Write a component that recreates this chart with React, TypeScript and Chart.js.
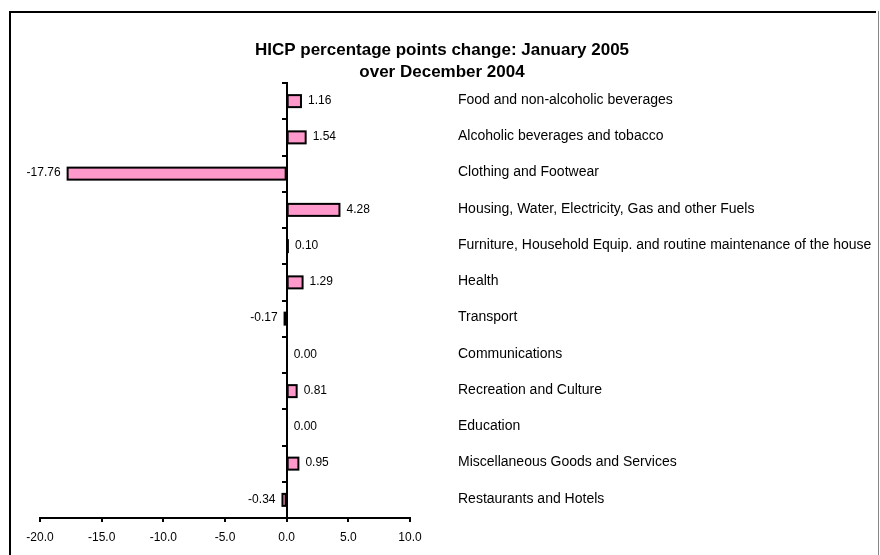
import { useEffect, useRef } from "react";
import { Chart, registerables } from "chart.js";

Chart.register(...registerables);

const categories = [
  "Food and non-alcoholic beverages",
  "Alcoholic beverages and tobacco",
  "Clothing and Footwear",
  "Housing, Water, Electricity, Gas and other Fuels",
  "Furniture, Household Equip. and routine maintenance of the house",
  "Health",
  "Transport",
  "Communications",
  "Recreation and Culture",
  "Education",
  "Miscellaneous Goods and Services",
  "Restaurants and Hotels",
];

const values = [1.16, 1.54, -17.76, 4.28, 0.1, 1.29, -0.17, 0.0, 0.81, 0.0, 0.95, -0.34];

const xTicks = [-20, -15, -10, -5, 0, 5, 10];

const titleLines = ["HICP percentage points change: January 2005", "over December 2004"];

const FONT = "'Liberation Sans', Arial, Helvetica, sans-serif";

export default function App() {
  const ref = useRef<HTMLCanvasElement>(null);

  useEffect(() => {
    const canvas = ref.current;
    if (!canvas) return;

    const overlay = {
      id: "overlay",
      beforeDraw(chart: any) {
        const ctx = chart.ctx;
        ctx.save();
        ctx.fillStyle = "#fff";
        ctx.fillRect(0, 0, chart.width, chart.height);
        ctx.fillStyle = "#000";
        ctx.fillRect(9, 11, 2, chart.height - 11);
        ctx.fillRect(9, 11, 867, 2);
        ctx.fillStyle = "#888";
        ctx.fillRect(878, 11, 1, chart.height - 11);
        ctx.restore();
      },
      afterDatasetsDraw(chart: any) {
        // Excel-style outline around each bar (centred on its edges)
        const ctx = chart.ctx;
        const meta = chart.getDatasetMeta(0);
        ctx.save();
        ctx.strokeStyle = "#000";
        ctx.lineWidth = 2;
        meta.data.forEach((bar: any, i: number) => {
          if (values[i] === 0) return;
          const p = bar.getProps(["x", "y", "base", "height"], true);
          const x0 = Math.min(p.x, p.base);
          const x1 = Math.max(p.x, p.base);
          ctx.strokeRect(x0, p.y - p.height / 2, x1 - x0, p.height);
        });
        ctx.restore();
      },
      afterDraw(chart: any) {
        const ctx = chart.ctx;
        const meta = chart.getDatasetMeta(0);
        const yScale = chart.scales.y;
        ctx.save();
        ctx.fillStyle = "#000";
        ctx.textBaseline = "middle";
        // title
        ctx.font = `bold 17px ${FONT}`;
        ctx.textAlign = "center";
        titleLines.forEach((t, i) => ctx.fillText(t, 442, 50 + i * 22));
        // value labels
        ctx.font = `12px ${FONT}`;
        meta.data.forEach((bar: any, i: number) => {
          const v = values[i];
          const y = bar.y - 0.5;
          if (v < 0) {
            ctx.textAlign = "right";
            ctx.fillText(v.toFixed(2), bar.x - 7, y);
          } else {
            ctx.textAlign = "left";
            ctx.fillText(v.toFixed(2), bar.x + 7, y);
          }
        });
        // category labels
        ctx.font = `14px ${FONT}`;
        ctx.textAlign = "left";
        categories.forEach((c, i) => ctx.fillText(c, 458, yScale.getPixelForValue(i) - 1));
        ctx.restore();
      },
    };

    const chart = new Chart(canvas, {
      type: "bar",
      data: {
        labels: categories,
        datasets: [
          {
            data: values,
            backgroundColor: (c: any) => (values[c.dataIndex] === 0 ? "rgba(0,0,0,0)" : "#FF99CC"),
            borderWidth: 0,
            barThickness: 12,
          },
        ],
      },
      options: {
        indexAxis: "y",
        animation: false,
        responsive: false,
        layout: { padding: { left: 40, right: 470, top: 83, bottom: 0 } },
        plugins: {
          legend: { display: false },
          title: { display: false },
          tooltip: { enabled: false },
        },
        scales: {
          x: {
            type: "linear",
            min: -20,
            max: 10,
            position: "bottom",
            afterBuildTicks: (s: any) => {
              s.ticks = xTicks.map((v) => ({ value: v }));
            },
            ticks: {
              callback: (v: any) => Number(v).toFixed(1),
              font: { family: FONT, size: 12 },
              color: "#000",
              padding: 8,
              maxRotation: 0,
              autoSkip: false,
            },
            grid: { drawOnChartArea: false, tickLength: 4, lineWidth: 2, color: "#000" },
            border: { color: "#000", width: 2 },
            afterFit: (s: any) => {
              s.height = 37;
            },
          },
          y: {
            type: "category",
            position: { x: 0 },
            offset: true,
            z: 1,
            ticks: { display: false },
            grid: { offset: true, drawOnChartArea: false, tickLength: 4, lineWidth: 2, color: "#000" },
            border: { color: "#000", width: 2 },
            afterFit: (s: any) => {
              s.width = 0;
            },
          },
        },
      } as any,
      plugins: [overlay],
    });

    return () => chart.destroy();
  }, []);

  return (
    <div style={{ position: "absolute", left: 0, top: 0, width: 880, height: 555 }}>
      <canvas ref={ref} width={880} height={555} style={{ display: "block", width: 880, height: 555 }} />
    </div>
  );
}
